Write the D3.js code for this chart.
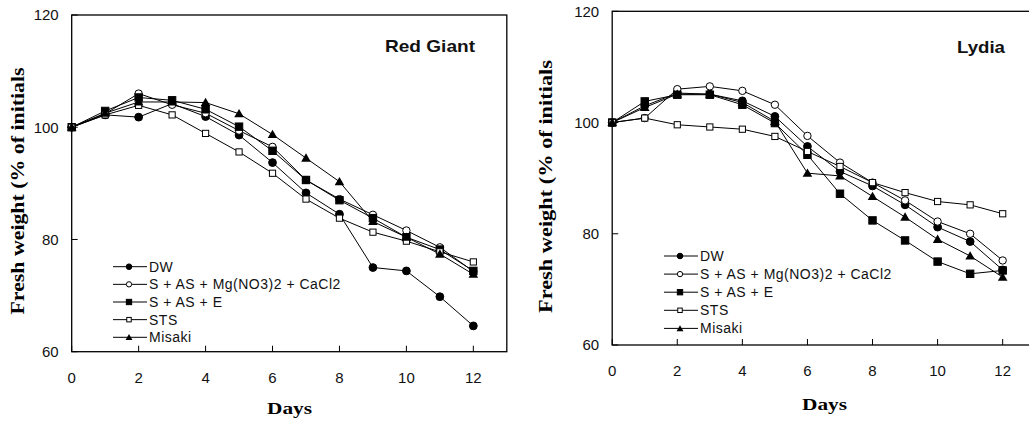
<!DOCTYPE html>
<html>
<head>
<meta charset="utf-8">
<script src="https://cdn.jsdelivr.net/npm/d3@7"></script>
<style>
  body { margin: 0; background: #fff; }
  svg { display: block; }
</style>
</head>
<body>
<svg id="svg" width="1029" height="423"></svg>
<script>
// days 0..12
const days = [0, 1, 2, 3, 4, 5, 6, 7, 8, 9, 10, 11, 12];
const seriesNames = ["DW", "S + AS + Mg(NO3)2 + CaCl2", "S + AS + E", "STS", "Misaki"];
const markerTypes = ["circleFilled", "circleOpen", "squareFilled", "squareOpen", "triangle"];
const xTicks = [0, 2, 4, 6, 8, 10, 12];
const yTicks = [60, 80, 100, 120];

// Red Giant
const redDW    = [100, 102.2, 101.8, 104.2, 101.9, 98.6, 93.7, 88.3, 84.5, 75.0, 74.4, 69.8, 64.6];
const redMg    = [100, 102.4, 106.0, 104.0, 102.5, 99.4, 96.5, 90.6, 87.2, 84.4, 81.6, 78.6, 74.3];
const redE     = [100, 102.9, 105.3, 104.8, 103.2, 100.1, 95.8, 90.6, 87.0, 83.8, 80.4, 78.2, 74.4];
const redSTS   = [100, 102.2, 103.9, 102.2, 98.9, 95.6, 91.8, 87.2, 83.8, 81.3, 79.7, 77.8, 76.0];
const redMis   = [100, 102.5, 104.5, 104.5, 104.4, 102.4, 98.7, 94.5, 90.3, 83.2, 80.4, 77.4, 73.8];

// Lydia
const lydDW    = [100, 103.0, 105.3, 105.1, 103.9, 101.1, 95.7, 91.2, 88.6, 85.2, 81.2, 78.6, 73.5];
const lydMg    = [100, 100.8, 106.0, 106.5, 105.7, 103.2, 97.6, 92.8, 89.2, 86.0, 82.2, 80.0, 75.2];
const lydE     = [100, 103.8, 105.0, 105.0, 103.2, 99.9, 94.2, 87.2, 82.4, 78.8, 75.0, 72.8, 73.4];
const lydSTS   = [100, 100.8, 99.6, 99.2, 98.8, 97.5, 94.8, 92.1, 89.2, 87.4, 85.8, 85.2, 83.6];
const lydMis   = [100, 102.7, 105.1, 105.1, 103.6, 100.2, 90.9, 90.4, 86.7, 83.0, 79.0, 76.0, 72.2];

const svg = d3.select("#svg");

function drawMarker(g, type, x, y, big) {
  const s = big ? 1 : 0.72;
  if (type === "circleFilled" || type === "circleOpen") {
    g.append("circle")
      .attr("cx", x).attr("cy", y)
      .attr("r", (type === "circleFilled" ? 3.9 : 3.7) * s)
      .attr("fill", type === "circleFilled" ? "#000" : "#fff")
      .attr("stroke", "#000").attr("stroke-width", 1);
  } else if (type === "squareFilled" || type === "squareOpen") {
    const a = (type === "squareFilled" ? 7.4 : 6.2) * s;
    g.append("rect")
      .attr("x", x - a / 2).attr("y", y - a / 2)
      .attr("width", a).attr("height", a)
      .attr("fill", type === "squareFilled" ? "#000" : "#fff")
      .attr("stroke", "#000").attr("stroke-width", 1);
  } else {
    g.append("path")
      .attr("d", d3.symbol(d3.symbolTriangle, 40 * s * s)())
      .attr("transform", `translate(${x},${y + 0.8})`)
      .attr("fill", "#000");
  }
}

function drawPanel(p) {
  const x = d3.scaleLinear().domain([0, 13]).range([p.left, p.left + 13 * p.dayW]);
  const y = d3.scaleLinear().domain([60, 120]).range([p.bottom, p.top]);
  const g = svg.append("g");

  // frame
  g.append("rect")
    .attr("x", x(0)).attr("y", y(120))
    .attr("width", x(13) - x(0)).attr("height", y(60) - y(120))
    .attr("fill", "none").attr("stroke", "#000").attr("stroke-width", 1.3);

  // inward ticks
  g.selectAll(".xt").data(xTicks).join("line")
    .attr("x1", d => x(d)).attr("x2", d => x(d))
    .attr("y1", y(60)).attr("y2", y(60) - 6)
    .attr("stroke", "#000");
  g.selectAll(".yt").data(yTicks).join("line")
    .attr("x1", x(0)).attr("x2", x(0) + 6)
    .attr("y1", d => y(d)).attr("y2", d => y(d))
    .attr("stroke", "#000");

  g.selectAll(".xl").data(xTicks).join("text")
    .attr("x", d => x(d)).attr("y", y(60) + 31)
    .attr("text-anchor", "middle")
    .attr("font-family", "Liberation Sans, Arial, sans-serif")
    .attr("font-size", 15).attr("fill", "#111")
    .text(d => d);
  g.selectAll(".yl").data(yTicks).join("text")
    .attr("x", x(0) - 13).attr("y", d => y(d)).attr("dy", "0.36em")
    .attr("text-anchor", "end")
    .attr("font-family", "Liberation Sans, Arial, sans-serif")
    .attr("font-size", 15).attr("fill", "#111")
    .text(d => d);

  // axis titles (the original font is a wide bold serif)
  g.append("text")
    .attr("transform", `translate(${p.yTitleX},${p.yTitleY}) rotate(-90)`)
    .attr("text-anchor", "middle")
    .attr("font-family", "Liberation Serif, Times New Roman, serif")
    .attr("font-weight", "bold").attr("font-size", 18.5)
    .attr("textLength", p.yTitleLen).attr("lengthAdjust", "spacingAndGlyphs")
    .text("Fresh weight (% of initials");
  g.append("text")
    .attr("x", p.daysX).attr("y", p.daysY)
    .attr("text-anchor", "middle")
    .attr("font-family", "Liberation Serif, Times New Roman, serif")
    .attr("font-weight", "bold").attr("font-size", 17)
    .attr("textLength", 45).attr("lengthAdjust", "spacingAndGlyphs")
    .text("Days");

  // cultivar name
  g.append("text")
    .attr("x", p.nameX).attr("y", p.nameY)
    .attr("text-anchor", "end")
    .attr("font-family", "Liberation Sans, Arial, sans-serif")
    .attr("font-size", 17).attr("font-weight", "bold")
    .attr("fill", "#111")
    .attr("textLength", p.nameLen).attr("lengthAdjust", "spacingAndGlyphs")
    .text(p.name);

  const line = d3.line().x((d, i) => x(days[i])).y(d => y(d));

  p.series.forEach(vals => {
    g.append("path")
      .attr("d", line(vals))
      .attr("fill", "none").attr("stroke", "#000").attr("stroke-width", 1);
  });
  p.series.forEach((vals, si) => {
    vals.forEach((v, i) => drawMarker(g, markerTypes[si], x(days[i]), y(v), true));
  });

  // legend
  seriesNames.forEach((name, i) => {
    const ly = p.legY + i * p.legStep;
    g.append("line")
      .attr("x1", p.legX).attr("x2", p.legX + 34)
      .attr("y1", ly).attr("y2", ly)
      .attr("stroke", "#000").attr("stroke-width", 1);
    drawMarker(g, markerTypes[i], p.legX + 16, ly, false);
    g.append("text")
      .attr("x", p.legX + 36).attr("y", ly).attr("dy", "0.36em")
      .attr("font-family", "Liberation Sans, Arial, sans-serif")
      .attr("font-size", 14).attr("fill", "#111")
      .attr("letter-spacing", 0.5)
      .text(name.replace(/ \+ /g, "  + "));
  });
}

drawPanel({
  name: "Red Giant", nameLen: 90,
  left: 71.7, dayW: 33.47, top: 15, bottom: 351.7,
  series: [redDW, redMg, redE, redSTS, redMis],
  yTitleX: 24, yTitleY: 191, yTitleLen: 247,
  daysX: 289.5, daysY: 414,
  nameX: 475, nameY: 52,
  legX: 113, legY: 266.7, legStep: 17.65
});

drawPanel({
  name: "Lydia", nameLen: 48,
  left: 612.2, dayW: 32.54, top: 11.3, bottom: 345,
  series: [lydDW, lydMg, lydE, lydSTS, lydMis],
  yTitleX: 552, yTitleY: 186.5, yTitleLen: 253,
  daysX: 824.5, daysY: 410,
  nameX: 1005, nameY: 53,
  legX: 664, legY: 256, legStep: 18.1
});
</script>
</body>
</html>
